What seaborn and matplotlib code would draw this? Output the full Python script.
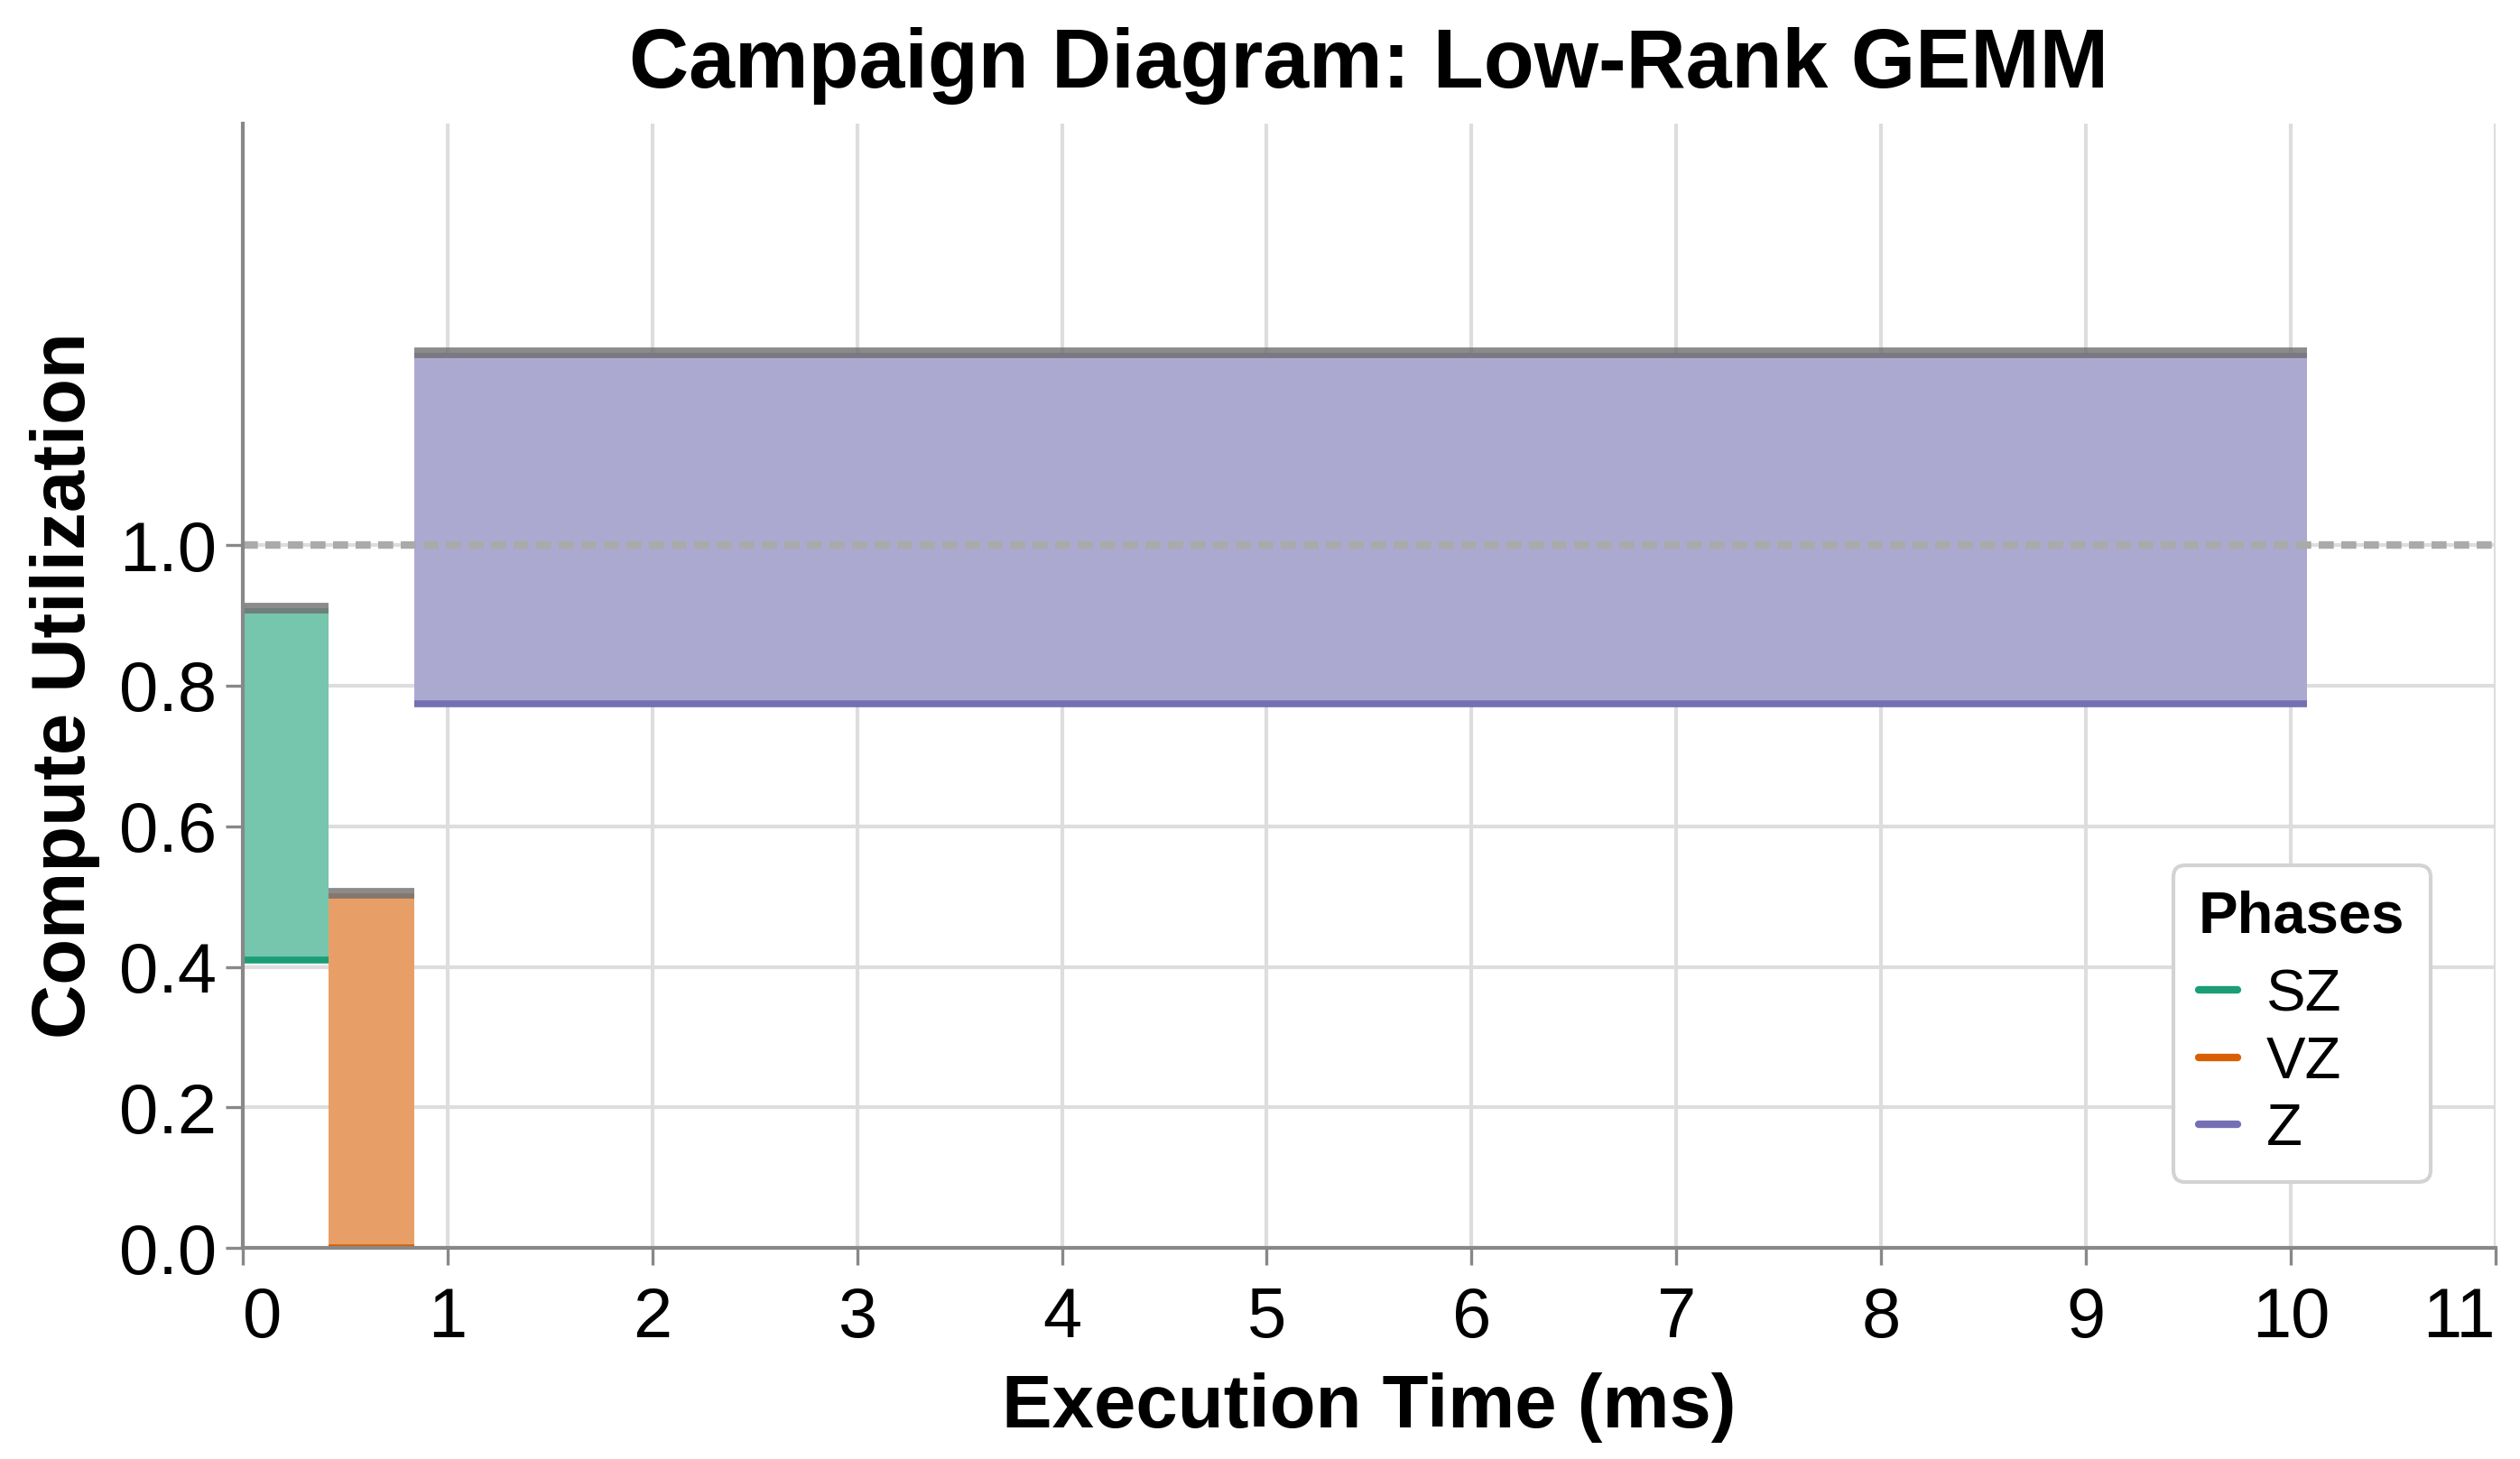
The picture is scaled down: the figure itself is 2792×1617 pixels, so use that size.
import numpy as np
import matplotlib
matplotlib.use("Agg")
import matplotlib.pyplot as plt
import seaborn as sns
from matplotlib.lines import Line2D

# Data
phases = ["SZ", "VZ", "Z"]
t_start = [0.0, 0.42, 0.84]
t_end = [0.42, 0.84, 10.08]
util_low = [0.41, 0.0, 0.774]
util_high = [0.911, 0.505, 1.274]
peak_util = 1.0

x_ticks = list(range(0, 12))
y_ticks = [0.0, 0.2, 0.4, 0.6, 0.8, 1.0]

sns.set_theme(style="white")
plt.rcParams['font.family'] = ['Liberation Sans', 'DejaVu Sans']
plt.rcParams['text.color'] = 'black'
plt.rcParams['axes.labelcolor'] = 'black'
plt.rcParams['xtick.color'] = 'black'
plt.rcParams['ytick.color'] = 'black'

palette = sns.color_palette("Dark2", 3)
colors = dict(zip(phases, palette))


def tint(c, a=0.6):
    # opaque version of a translucent fill over white
    return tuple(np.array(c) * a + (1 - a))


fig = plt.figure(figsize=(27.92, 16.17), dpi=100)
ax = fig.add_axes([0.0963, 0.1447, 0.8940, 0.7706])

# grid: vertical full height, horizontal only at ticks
for xt in x_ticks:
    ax.axvline(xt, color="#dddddd", lw=3, zorder=0)
for yt in y_ticks:
    ax.axhline(yt, color="#dddddd", lw=3, zorder=0)

for ph, s, e, lo, hi in zip(phases, t_start, t_end, util_low, util_high):
    c = colors[ph]
    ax.bar(s, hi - lo, width=e - s, bottom=lo, align="edge",
           color=tint(c), linewidth=0, zorder=2)
    ax.hlines(lo, s, e, color=c, lw=5.5, zorder=3)
    ax.hlines(hi, s, e, color="#6e6e6e", lw=8.5, alpha=0.8, zorder=3)

ax.axhline(peak_util, color="#aaaaaa", lw=6,
           linestyle=(0, (2.0, 1.0)), zorder=4)

ax.set_xlim(0, 11)
ax.set_ylim(0, 1.6)
ax.set_xticks(x_ticks)
ax.set_yticks(y_ticks)
ax.set_yticklabels([f"{v:.1f}" for v in y_ticks])

for side in ["top", "right"]:
    ax.spines[side].set_visible(False)
for side in ["left", "bottom"]:
    ax.spines[side].set_color("#888888")
    ax.spines[side].set_linewidth(3)
    ax.spines[side].set_zorder(5)

ax.tick_params(axis="both", which="both", length=14, width=2.4, color="#888888",
               labelsize=56, direction="out", bottom=True, left=True)
ax.tick_params(axis="x", pad=16)
ax.tick_params(axis="y", pad=7)

# flush first / last x labels like the reference
xlabels = ax.get_xticklabels()
xlabels[0].set_ha("left")
xlabels[-1].set_ha("right")

ax.set_title("Campaign Diagram: Low-Rank GEMM", fontsize=66, fontweight="bold", pad=29)
ax.set_xlabel("Execution Time (ms)", fontsize=60, fontweight="bold", labelpad=17)
ax.set_ylabel("Compute Utilization", fontsize=60, fontweight="bold", labelpad=15)

handles = [Line2D([0], [0], color=colors[p], lw=6) for p in phases]
leg = ax.legend(handles, phases, title="Phases", loc="lower right",
                bbox_to_anchor=(0.971, 0.0586), borderaxespad=0,
                fontsize=47, title_fontsize=47,
                handlelength=0.65, handletextpad=0.5, labelspacing=0.22,
                borderpad=0.43, frameon=True, fancybox=True, alignment="left")
leg.get_title().set_fontweight("bold")
leg._legend_box.sep = 19
frame = leg.get_frame()
frame.set_edgecolor("#d3d3d3")
frame.set_linewidth(3)
frame.set_facecolor("white")
frame.set_alpha(1)
leg.set_zorder(6)

fig.savefig("out.png", dpi=100)
